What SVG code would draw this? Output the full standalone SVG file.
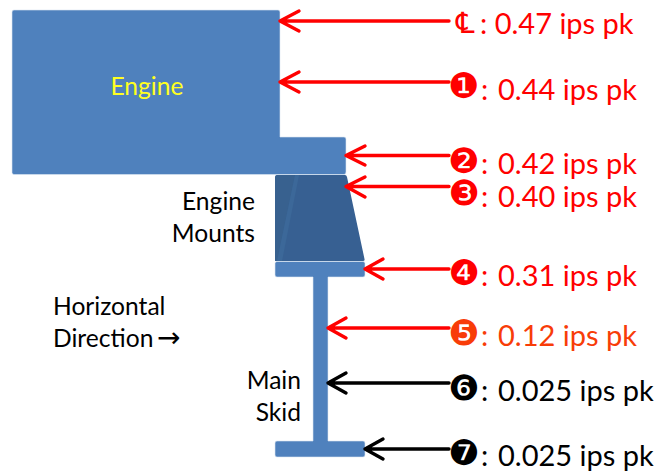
<svg xmlns="http://www.w3.org/2000/svg" width="663" height="472" viewBox="0 0 663 472">
<style>
text{font-family:Lato,"Open Sans","DejaVu Sans",sans-serif;}
.lbl{font-size:24.600px;fill:#000}
.val{font-size:29px;}
.sym{font-family:"DejaVu Sans",sans-serif;font-size:35px}
.r{fill:#f00}.o{fill:#f83c08}.k{fill:#000}
.body{fill:#4f81bd;stroke:#dce6f2;stroke-width:.6}
.line{fill:none;stroke-width:3.4;stroke-linecap:round;stroke-linejoin:round}
.sr{stroke:#f00}.sk{stroke:#000}
</style>
<g id="engine">
<path class="body" d="M14 10H278Q280 10 280 12V137H344Q346 137 346 139V172Q346 174.500 344 174.500H14Q12 174.500 12 172.500V12Q12 10 14 10Z"/>
<text x="147" y="95" text-anchor="middle" class="lbl" style="fill:#ffff21">Engine</text>
</g>
<g id="mounts">
<path d="M277 175H345Q346.500 175 347 177L364.500 259Q365 261 363 261H277Q275 261 275 259V177Q275 175 277 175Z" fill="#376092"/>
<path d="M277 175H295L277 261H275V177Z" fill="#38618f"/>
<path d="M295 175H299L282 261H277Z" fill="#3c6899"/>
<text x="255" y="210" text-anchor="end" class="lbl">Engine</text>
<text x="255" y="242" text-anchor="end" class="lbl">Mounts</text>
</g>
<g id="skid">
<path class="body" d="M277 261.500H363Q365 261.500 365 263.500V275Q365 277 363 277H328V441H363Q365 441 365 443V455Q365 457 363 457H277Q275 457 275 455V443Q275 441 277 441H313V277H277Q275 277 275 275V263.500Q275 261.500 277 261.500Z"/>
<text x="301" y="389" text-anchor="end" class="lbl">Main</text>
<text x="301" y="421" text-anchor="end" class="lbl">Skid</text>
</g>
<g id="direction">
<text x="53" y="315" class="lbl">Horizontal</text>
<text x="53" y="347" class="lbl">Direction</text>
<text x="157" y="347" class="lbl" style="font-family:'DejaVu Sans';font-size:28px">→</text>
</g>
<g id="connectors">
<path class="line sr" d="M449 21H280M299 11L280 21L299 31"/>
<path class="line sr" d="M449 82H280M299 72L280 82L299 92"/>
<path class="line sr" d="M449 155.500H346M365 146L346 155.500L365 165"/>
<path class="line sr" d="M449 186.500H346M365 177L346 186.500L365 197"/>
<path class="line sr" d="M449 269H365M383 259L365 269L383 279"/>
<path class="line sr" d="M449 328H328M346 318L328 328L346 338"/>
<path class="line sk" d="M449 383H328M346 373L328 383L346 393"/>
<path class="line sk" d="M449 449H365M383 439L365 449L383 459"/>
</g>
<g id="readings">
<text x="456" y="33" class="sym r" style="font-size:29px">℄</text><text x="480" y="33.500" class="val r">: 0.47 ips pk</text>
<text x="448.300" y="98" class="sym r">❶</text><text x="481" y="100" class="val r">:</text><text x="498" y="100" class="val r">0.44 ips pk</text>
<text x="448.300" y="172.700" class="sym r">❷</text><text x="481" y="174" class="val r">:</text><text x="498" y="174" class="val r">0.42 ips pk</text>
<text x="448.300" y="205" class="sym r">❸</text><text x="481" y="207" class="val r">:</text><text x="498" y="207" class="val r">0.40 ips pk</text>
<text x="448.300" y="285" class="sym r">❹</text><text x="481" y="286" class="val r">:</text><text x="498" y="286" class="val r">0.31 ips pk</text>
<text x="448.300" y="345" class="sym o">❺</text><text x="481" y="346" class="val o">:</text><text x="498" y="346" class="val o">0.12 ips pk</text>
<text x="448.300" y="400" class="sym k">❻</text><text x="481" y="401" class="val k">:</text><text x="498" y="401" class="val k">0.025 ips pk</text>
<text x="448.300" y="464.500" class="sym k">❼</text><text x="481" y="466" class="val k">:</text><text x="498" y="466" class="val k">0.025 ips pk</text>
</g>
</svg>
